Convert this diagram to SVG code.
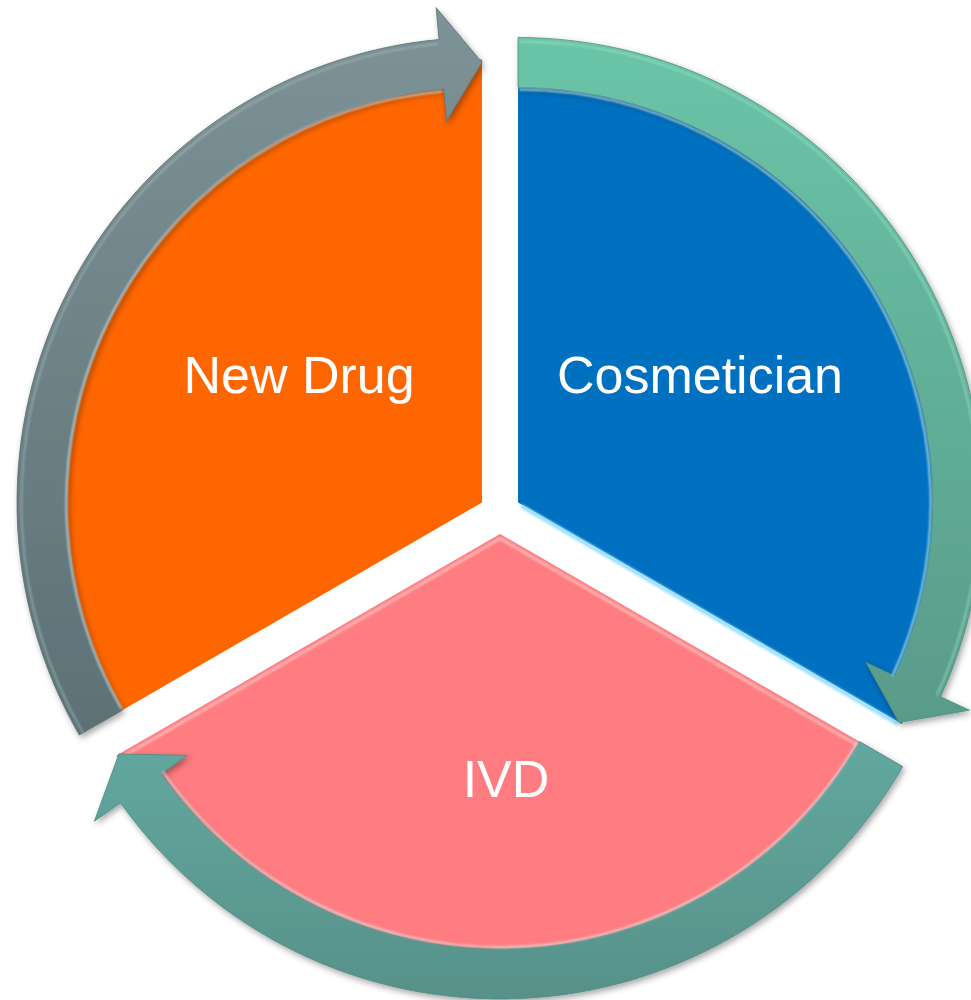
<svg xmlns="http://www.w3.org/2000/svg" width="971" height="1000" viewBox="0 0 971 1000">
  <style>
    .label { font-family: "Liberation Sans", Arial, sans-serif; font-size: 52px; fill: #FFFFFF; text-anchor: middle; }
    .hl { fill: none; stroke-linecap: round; }
  </style>
  <defs>
    <linearGradient id="gGray" x1="0" y1="0" x2="0" y2="1">
      <stop offset="0" stop-color="#7E9397"/>
      <stop offset="1" stop-color="#5C7176"/>
    </linearGradient>
    <linearGradient id="gTeal1" x1="0" y1="0" x2="0" y2="1">
      <stop offset="0" stop-color="#6AC5A8"/>
      <stop offset="1" stop-color="#599B89"/>
    </linearGradient>
    <linearGradient id="gTeal2" x1="0" y1="0" x2="0" y2="1">
      <stop offset="0" stop-color="#62A89E"/>
      <stop offset="1" stop-color="#57918A"/>
    </linearGradient>
    <filter id="shadow" x="-10%" y="-10%" width="120%" height="120%">
      <feDropShadow dx="2" dy="3" stdDeviation="3" flood-color="#000" flood-opacity="0.35"/>
    </filter>
    <filter id="soft" x="-10%" y="-10%" width="120%" height="120%">
      <feGaussianBlur stdDeviation="1.2"/>
    </filter>
  </defs>

  <g id="node-newdrug">
    <path d="M482,502.5 L98.4,724 A443,443 0 0 1 482,59.5 Z" fill="#FF6600"/>
    <line x1="479.5" y1="62" x2="479.5" y2="500" stroke="#FFE6A8" stroke-width="3" filter="url(#soft)"/>
    <text class="label" x="299" y="393">New Drug</text>
  </g>

  <g id="node-cosmetician">
    <path d="M518,502.5 L518,59.5 A443,443 0 0 1 901.6,724 Z" fill="#0070C0"/>
    <line x1="521" y1="506" x2="898" y2="724" stroke="#9BE0FF" stroke-width="4" filter="url(#soft)"/>
    <text class="label" x="700" y="393">Cosmetician</text>
  </g>

  <g id="node-ivd">
    <path d="M500,534 L883.6,755.5 A443,443 0 0 1 116.4,755.5 Z" fill="#FF7C80"/>
    <polyline points="122,757 500,538.5 878,757" fill="none" stroke="#FFB3B5" stroke-width="3" filter="url(#soft)"/>
    <text class="label" x="506" y="797">IVD</text>
  </g>

  <g id="connectors">
    <g filter="url(#shadow)">
      <path id="arrow-gray" d="M79.3,735 A465,465 0 0 1 439.05,39.5 L436.1,7.6 L482,62.5 L446.6,121.1 L443.7,89.3 A415,415 0 0 0 122.6,710 Z" fill="url(#gGray)" stroke="#5A6E72" stroke-width="0.8"/>
      <path id="arrow-teal" d="M518,37.5 A465,465 0 0 1 940.5,696.8 L969.5,710.2 L899.1,722.5 L866,662.5 L895,675.9 A415,415 0 0 0 518,87.5 Z" fill="url(#gTeal1)" stroke="#4F8E7C" stroke-width="0.8"/>
      <path id="arrow-sea" d="M902.7,766.5 A465,465 0 0 1 120.5,802.7 L94.4,821.2 L118.9,754 L187.4,755.3 L161.3,773.8 A415,415 0 0 0 859.4,741.5 Z" fill="url(#gTeal2)" stroke="#4E8780" stroke-width="0.8"/>
    </g>
    <g filter="url(#soft)" opacity="0.75">
      <path class="hl" d="M121,708 A413,413 0 0 1 442,91.5" stroke="#DDEBEE" stroke-width="2"/>
      <path class="hl" d="M520,89.5 A413,413 0 0 1 893,675" stroke="#E0FFF4" stroke-width="2"/>
      <path class="hl" d="M857,743 A413,413 0 0 1 163,772" stroke="#D8F2EE" stroke-width="2"/>
      <path class="hl" d="M83,733 A461,461 0 0 1 437,44" stroke="#A9BCC0" stroke-width="1.5"/>
      <path class="hl" d="M520,41.5 A461,461 0 0 1 937,695" stroke="#9EE6CC" stroke-width="1.5"/>
    </g>
  </g>
</svg>
